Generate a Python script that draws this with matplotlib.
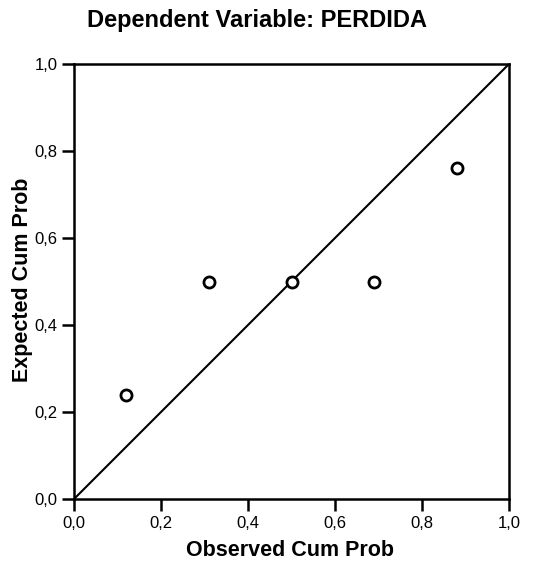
import matplotlib
matplotlib.use("Agg")
import matplotlib.pyplot as plt

plt.rcParams['font.family'] = ['Liberation Sans', 'DejaVu Sans']

observed = [0.12, 0.31, 0.50, 0.69, 0.88]
expected = [0.24, 0.50, 0.50, 0.50, 0.76]
ticks = [0.0, 0.2, 0.4, 0.6, 0.8, 1.0]
tick_labels = ["0,0", "0,2", "0,4", "0,6", "0,8", "1,0"]

fig = plt.figure(figsize=(5.35, 5.65), dpi=100)
ax = fig.add_axes([74/535, 66/565, 435/535, 435/565])

ax.plot([0, 1], [0, 1], color='black', lw=1.5)
ax.plot(observed, expected, 'o', mfc='white', mec='black', mew=2, ms=8)

ax.set_xlim(0, 1)
ax.set_ylim(0, 1)
ax.set_xticks(ticks)
ax.set_xticklabels(tick_labels)
ax.set_yticks(ticks)
ax.set_yticklabels(tick_labels)
ax.tick_params(direction='out', length=8.5, width=1.8, labelsize=12, pad=3.5)
for s in ax.spines.values():
    s.set_linewidth(1.8)

fig.text(290/535, 1 - 550/565, "Observed Cum Prob", fontsize=15.5,
         fontweight='bold', ha='center', va='center')
fig.text(23/535, 1 - 280/565, "Expected Cum Prob", fontsize=15.5,
         fontweight='bold', ha='center', va='center', rotation=90)
fig.text(257/535, 1 - 20/565, "Dependent Variable: PERDIDA", fontsize=17,
         fontweight='bold', ha='center', va='center')

fig.savefig("out.png", dpi=100)
